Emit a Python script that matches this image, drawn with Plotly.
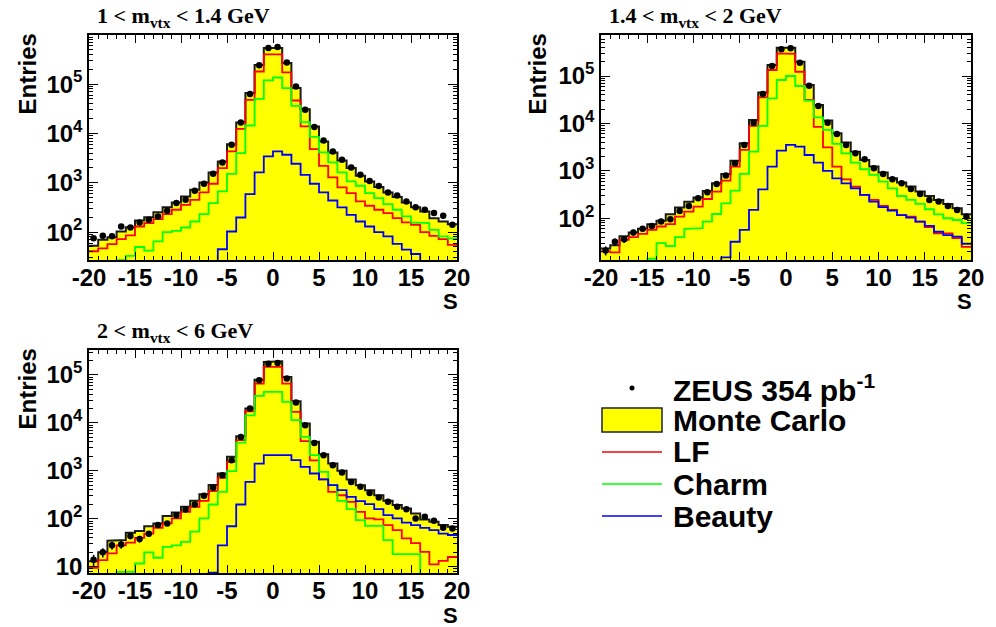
import plotly.graph_objects as go
import math

W, H = 996, 627

# S bins: 40 bins of unit width from -20 to 20
edges = list(range(-20, 21))
centers = [e + 0.5 for e in edges[:-1]]

# ---- 1 < m_vtx < 1.4 GeV ----
data1 = [75, 84, 82, 130, 124, 157, 178, 208, 271, 387, 452, 689, 955, 1520, 2580, 5890, 16600, 63000, 240000, 537000,
         562000, 274000, 89600, 30200, 13500, 7210, 4310, 2930, 2050, 1450, 1090, 865, 637, 553, 418, 321, 284, 243, 214, 141]
mc1 = [53, 70, 79, 103, 126, 172, 201, 254, 321, 399, 529, 722, 1016, 1620, 2700, 6050, 16700, 66000, 245000, 537000,
       537000, 268000, 83000, 31000, 13900, 6900, 4120, 2830, 1990, 1390, 1060, 818, 637, 512, 399, 320, 262, 192, 164, 145]
lf1 = [41, 47, 57, 72, 86, 130, 152, 183, 232, 284, 358, 452, 637, 955, 1990, 4310, 12400, 48000, 180000, 400000,
       400000, 173000, 46500, 13900, 4800, 2210, 1290, 804, 617, 418, 342, 284, 243, 192, 157, 141, 100, 84, 72, 55]
charm1 = [8, 8, 8, 27, 33, 50, 42, 65, 100, 106, 124, 164, 232, 387, 667, 1520, 3980, 14500, 50400, 119000,
          136000, 83000, 36300, 17000, 8500, 4120, 2580, 1620, 1065, 870, 617, 490, 370, 284, 208, 157, 152, 111, 82, 75]
beauty1 = [1, 1, 1, 1, 1, 1, 1, 1, 1, 1, 1, 1, 1, 1, 45, 103, 198, 589, 1620, 3420,
           4310, 3700, 2430, 1450, 955, 637, 437, 316, 224, 164, 130, 100, 82, 58, 44, 36, 1, 1, 1, 1]

# ---- 1.4 < m_vtx < 2 GeV ----
data2 = [21, 32, 36, 50, 60, 69, 85, 95, 143, 182, 264, 353, 529, 794, 1450, 3520, 10400, 41800, 162000, 366000,
         384000, 191000, 62700, 23300, 10400, 6000, 3520, 2340, 1750, 1130, 861, 664, 547, 415, 326, 244, 225, 182, 150, 108]
mc2 = [23, 27, 42, 50, 60, 75, 89, 121, 168, 224, 273, 377, 547, 861, 1640, 3800, 11750, 44700, 170000, 395000,
       395000, 201000, 64700, 24600, 11500, 6200, 3940, 2540, 1700, 1230, 918, 697, 565, 466, 365, 295, 244, 201, 162, 121]
lf2 = [20, 19, 35, 40, 47, 57, 67, 75, 108, 138, 176, 255, 365, 622, 1230, 2760, 8850, 35500, 134000, 301000,
       292000, 123000, 31300, 8500, 3140, 1230, 664, 466, 310, 244, 182, 150, 117, 108, 85, 65, 48, 48, 38, 25]
charm2 = [1, 1, 1, 1, 1, 14, 30, 26, 40, 60, 62, 85, 123, 207, 383, 861, 2540, 8850, 33900, 82400,
          100000, 61600, 30300, 13400, 7280, 3690, 2340, 1490, 1080, 820, 593, 429, 295, 244, 201, 155, 121, 100, 92, 79]
beauty2 = [1, 1, 1, 1, 1, 1, 1, 1, 1, 1, 1, 1, 1, 15, 32, 57, 150, 408, 1230, 2670,
           3520, 3240, 2160, 1490, 995, 697, 547, 429, 310, 224, 171, 145, 117, 103, 85, 69, 52, 44, 41, 29]

# ---- 2 < m_vtx < 6 GeV ----
data3 = [14, 20, 28, 29, 44, 38, 49, 74, 80, 119, 156, 199, 302, 443, 813, 1670, 5100, 19900, 77600, 172000,
         178000, 84000, 26500, 8900, 3830, 2120, 1310, 923, 589, 464, 347, 278, 226, 178, 159, 102, 110, 91, 65, 63]
mc3 = [13, 20, 35, 36, 51, 56, 70, 80, 115, 135, 178, 237, 327, 505, 880, 1960, 5260, 19900, 79800, 187000,
       193000, 90800, 28200, 9680, 4020, 2220, 1420, 1000, 661, 503, 395, 311, 237, 193, 164, 129, 97, 87, 74, 68]
lf3 = [9.5, 13.8, 19, 28, 32, 40, 49, 65, 80, 102, 140, 178, 237, 377, 715, 1540, 4370, 17500, 66100, 147000,
       147000, 66100, 17000, 4150, 1650, 661, 365, 310, 226, 140, 102, 97, 74, 58, 39, 31, 20.5, 11.2, 13.3, 16]
charm3 = [1, 1, 1, 7.8, 7.8, 11.7, 19.9, 15.4, 26, 28, 33, 54, 102, 199, 365, 984, 3890, 14400, 36500, 44300,
          44300, 27400, 11400, 5100, 2120, 955, 503, 237, 159, 94, 71, 71, 36, 18.4, 18.4, 18.4, 1, 1, 1, 1]
beauty3 = [1, 1, 1, 1, 1, 1, 1, 1, 1, 1, 1, 1, 1, 7.5, 28, 70, 199, 590, 1420, 2120,
           2190, 2120, 1670, 1210, 880, 661, 503, 395, 287, 233, 202, 159, 119, 102, 83, 74, 65, 58, 49, 46]

titles = ["1 < m<sub>vtx</sub> < 1.4 GeV", "1.4 < m<sub>vtx</sub> < 2 GeV", "2 < m<sub>vtx</sub> < 6 GeV"]
x_ticks = [-20, -15, -10, -5, 0, 5, 10, 15, 20]
legend_labels = ["ZEUS 354 pb<sup>-1</sup>", "Monte Carlo", "LF", "Charm", "Beauty"]

YELLOW = "#ffff00"
RED = "#ff0000"
GREEN = "#00ff00"
BLUE = "#0000ff"
SANS = "Liberation Sans"
SERIF = "Liberation Serif"


def px(x):
    return x / W


def py(y):
    return 1 - y / H


# frame of each panel in pixels: (left, right, top, bottom), and log10 y range
panels = [
    dict(box=(89, 457, 35, 260), yr=(1.435, 5.995), data=data1, mc=mc1, lf=lf1, c=charm1, b=beauty1),
    dict(box=(601, 971, 35, 260), yr=(1.12, 5.865), data=data2, mc=mc2, lf=lf2, c=charm2, b=beauty2),
    dict(box=(89, 457, 350, 573), yr=(0.87, 5.52), data=data3, mc=mc3, lf=lf3, c=charm3, b=beauty3),
]


def steps(vals):
    xs, ys = [], []
    for i, v in enumerate(vals):
        xs += [edges[i], edges[i + 1]]
        ys += [v, v]
    return xs, ys


fig = go.Figure()
layout = dict(width=W, height=H, margin=dict(l=0, r=0, t=0, b=0, autoexpand=False),
              template="none", paper_bgcolor="white", plot_bgcolor="white", showlegend=False)

annotations = []
shapes = []
TICKFONT = dict(family=SANS, size=24, color="black", weight="bold")

for k, p in enumerate(panels):
    n = "" if k == 0 else str(k + 1)
    xa, ya = "x" + n, "y" + n
    l, r, t, b = p["box"]
    lo, hi = p["yr"]
    floor = 10 ** (lo - 1)

    # filled Monte Carlo histogram
    sx, sy = steps(p["mc"])
    fig.add_trace(go.Scatter(x=[edges[0]] + sx + [edges[-1]], y=[floor] + sy + [floor],
                             mode="lines", fill="toself", fillcolor=YELLOW,
                             line=dict(width=0), hoverinfo="skip", xaxis=xa, yaxis=ya))
    fig.add_trace(go.Scatter(x=sx, y=sy, mode="lines", line=dict(color="#1a1a1a", width=2),
                             xaxis=xa, yaxis=ya))
    for vals, col in ((p["lf"], RED), (p["c"], GREEN), (p["b"], BLUE)):
        cx, cy = steps(vals)
        fig.add_trace(go.Scatter(x=cx, y=cy, mode="lines", line=dict(color=col, width=1.8),
                                 xaxis=xa, yaxis=ya))
    # data points with statistical errors
    fig.add_trace(go.Scatter(x=centers, y=p["data"], mode="markers",
                             marker=dict(color="black", size=6.5),
                             error_y=dict(type="data", array=[math.sqrt(v) for v in p["data"]],
                                          color="black", thickness=1.5, width=0),
                             xaxis=xa, yaxis=ya))

    decades = list(range(math.ceil(lo), math.floor(hi) + 1))
    minors = [m * 10 ** d for d in range(math.floor(lo), math.ceil(hi)) for m in range(2, 10)
              if lo <= math.log10(m * 10 ** d) <= hi]
    layout["xaxis" + n] = dict(
        domain=[px(l), px(r)], range=[-20, 20], anchor=ya, automargin=False,
        tickmode="array", tickvals=x_ticks, ticktext=[str(v) for v in x_ticks],
        ticks="inside", ticklen=8, tickwidth=1.2, tickcolor="black",
        minor=dict(tickmode="array", tickvals=[v for v in edges if v not in x_ticks],
                   ticks="inside", ticklen=4, tickwidth=1, tickcolor="black", showgrid=False),
        showline=True, linecolor="black", linewidth=1.5, mirror="allticks",
        showgrid=False, zeroline=False, tickfont=TICKFONT, ticklabelstandoff=-5,
    )
    layout["yaxis" + n] = dict(
        domain=[py(b), py(t)], type="log", range=[lo, hi], anchor=xa, automargin=False,
        tickmode="array", tickvals=[10 ** d for d in decades],
        ticktext=["10<sup>%d</sup>" % d if d > 1 else "10" for d in decades],
        ticks="inside", ticklen=9, tickwidth=1.2, tickcolor="black",
        minor=dict(tickmode="array", tickvals=minors, ticks="inside", ticklen=4.5,
                   tickwidth=1, tickcolor="black", showgrid=False),
        showline=True, linecolor="black", linewidth=1.5, mirror="allticks",
        showgrid=False, zeroline=False, tickfont=TICKFONT, ticklabelstandoff=0,
    )

    # panel title
    annotations.append(dict(text=titles[k], x=px(l + 6), y=py(t - 18), xref="paper", yref="paper",
                            xanchor="left", yanchor="middle", showarrow=False,
                            font=dict(family=SERIF, size=22, color="black", weight="bold")))
    # y title
    ex = 27 if k != 1 else 537
    annotations.append(dict(text="Entries", x=px(ex), y=py(t - 3), xref="paper", yref="paper",
                            xanchor="center", yanchor="top", textangle=-90, showarrow=False,
                            font=dict(family=SANS, size=24, color="black", weight="bold")))
    # x title
    annotations.append(dict(text="S", x=px(r + 2), y=py(b + 42), xref="paper", yref="paper",
                            xanchor="right", yanchor="middle", showarrow=False, borderpad=0,
                            font=dict(family=SANS, size=22, color="black", weight="bold")))

# legend block
leg_x0, leg_x1, txt_x = 602, 662, 671
rows = [388, 420, 452, 484, 516]
shapes.append(dict(type="circle", xref="paper", yref="paper",
                   x0=px(629.5), x1=px(634.5), y0=py(rows[0] + 2.5), y1=py(rows[0] - 2.5),
                   fillcolor="black", line=dict(width=0)))
shapes.append(dict(type="rect", xref="paper", yref="paper",
                   x0=px(leg_x0), x1=px(leg_x1), y0=py(rows[1] + 12), y1=py(rows[1] - 12),
                   fillcolor=YELLOW, line=dict(color="#222", width=1.5)))
for yy, col in zip(rows[2:], (RED, GREEN, BLUE)):
    shapes.append(dict(type="line", xref="paper", yref="paper",
                       x0=px(leg_x0), x1=px(leg_x1), y0=py(yy), y1=py(yy),
                       line=dict(color=col, width=1.3)))
for yy, lab in zip(rows, legend_labels):
    annotations.append(dict(text=lab, x=px(txt_x), y=py(yy), xref="paper", yref="paper",
                            xanchor="left", yanchor="middle", showarrow=False,
                            font=dict(family=SANS, size=30, color="black", weight="bold")))

layout["annotations"] = annotations
layout["shapes"] = shapes
fig.update_layout(**layout)
fig.write_html("out.html")
